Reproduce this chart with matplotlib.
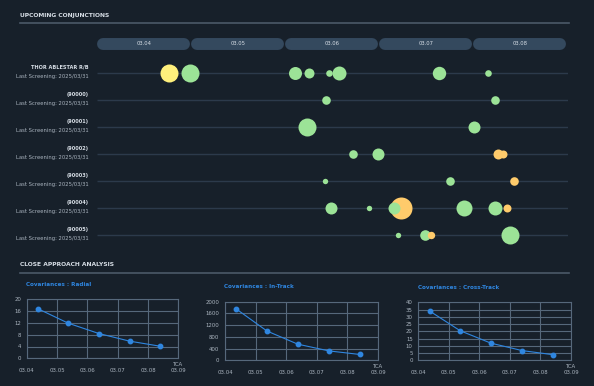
import numpy as np
import matplotlib
matplotlib.use('Agg')
import matplotlib.pyplot as plt
from matplotlib.transforms import ScaledTranslation

######################## data ###############################################

days = [4, 5, 6, 7, 8]
day_labels = ['03.04', '03.05', '03.06', '03.07', '03.08']

objects = ['THOR ABLESTAR R/B', '(90000)', '(90001)', '(90002)',
           '(90003)', '(90004)', '(90005)']
screening = 'Last Screening: 2025/03/31'

# conjunction events: row index, TCA (day of march), size, risk level
ev_row  = [0, 0, 0, 0, 0, 0, 0, 0,
           1, 1,
           2, 2,
           3, 3, 3, 3,
           4, 4, 4,
           5, 5, 5, 5, 5, 5, 5,
           6, 6, 6, 6]
ev_tca  = [4.77, 4.99, 6.11, 6.25, 6.47, 6.57, 7.64, 8.16,
           6.44, 8.23,
           6.23, 8.01,
           6.72, 6.99, 8.27, 8.32,
           6.42, 7.75, 8.44,
           6.49, 6.89, 7.23, 7.16, 7.90, 8.23, 8.36,
           7.20, 7.49, 7.55, 8.39]
ev_size = [9.0, 9.0, 6.5, 5.0, 3.3, 7.0, 6.7, 3.3,
           4.3, 4.3,
           9.0, 6.0,
           4.3, 6.0, 5.0, 4.0,
           2.7, 4.3, 4.3,
           6.0, 2.7, 11.0, 6.0, 8.0, 7.0, 4.0,
           2.7, 5.3, 3.7, 9.0]
ev_lvl  = ['y', 'g', 'g', 'g', 'g', 'g', 'g', 'g',
           'g', 'g',
           'g', 'g',
           'g', 'g', 'o', 'o',
           'g', 'g', 'o',
           'g', 'g', 'o', 'g', 'g', 'g', 'o',
           'g', 'g', 'o', 'g']

tca_x = [4.37, 5.37, 6.38, 7.40, 8.40]
radial = [16.8, 11.9, 8.4, 5.8, 4.1]
intrack = [1750, 1000, 550, 320, 200]
crosstrack = [34.0, 20.4, 11.8, 6.7, 3.9]

######################## style ##############################################

bg = '#17202a'
fg = '#d6dde5'
sub = '#aab4bf'
rowline = '#2c3a4b'
pill = '#34495e'
grid = '#56687b'
blue = '#2f86e0'
lvl_col = {'g': '#9ce397', 'y': '#fff07c', 'o': '#ffcb6b'}

plt.rcParams['font.family'] = ['Liberation Sans Narrow', 'DejaVu Sans']

W, H = 594., 386.
fig = plt.figure(figsize=(W/100, H/100), dpi=100, facecolor=bg)

def box(l, t, r, b):
    return [l/W, 1 - b/H, (r - l)/W, (b - t)/H]

def heading(txt, y):
    fig.text(20/W, 1 - y/H, txt, color=fg, fontsize=4.3, fontweight='bold',
             va='center', ha='left')
    fig.add_artist(plt.Line2D([20/W, 569/W], [1 - (y+8)/H]*2, color='#4b5968',
                              lw=1.2, transform=fig.transFigure))

heading('UPCOMING CONJUNCTIONS', 15)
heading('CLOSE APPROACH ANALYSIS', 265)

######################## upcoming conjunctions ##############################

ax = fig.add_axes(box(97, 30, 568, 250))
ax.set_facecolor('none')
ax.axis('off')
ax.set_xlim(4, 9.01)
ax.set_ylim((250 - 73)/27.05, (30 - 73)/27.05)

ypill = (43.5 - 73)/27.05
for d, lab in zip(days, day_labels):
    ax.plot([d + 0.065, d + 0.93], [ypill, ypill], color=pill, lw=8.6,
            solid_capstyle='round', zorder=1)
    ax.text(d + 0.5, ypill, lab, color=fg, fontsize=3.8, ha='center',
            va='center', zorder=2)

ax.hlines(range(len(objects)), 4, 9.01, color=rowline, lw=1.0, zorder=1)

off = ScaledTranslation(-8/100, 0, fig.dpi_scale_trans)
for i, name in enumerate(objects):
    ax.text(4, i - 6/27.05, name, color=fg, fontsize=3.6, fontweight='bold',
            ha='right', va='center', transform=ax.transData + off)
    ax.text(4, i + 3.5/27.05, screening, color=sub, fontsize=3.8,
            ha='right', va='center', transform=ax.transData + off)

for k in range(len(ev_row)):
    s = (2 * ev_size[k] * 0.72)**2
    ax.scatter(ev_tca[k], ev_row[k], s=s, color=lvl_col[ev_lvl[k]],
               lw=0, zorder=3 + k)

######################## covariances ########################################

panels = [('Covariances : Radial', radial, np.arange(0, 21, 4), (26.7, 299.3, 178.3, 358.3)),
          ('Covariances : In-Track', intrack, np.arange(0, 2001, 400), (225, 301.7, 378, 360.3)),
          ('Covariances : Cross-Track', crosstrack, np.arange(0, 41, 5), (418.3, 302.3, 571, 360.3))]

for tit, vals, yt, (l, t, r, b) in panels:
    a = fig.add_axes(box(l, t, r, b))
    a.set_facecolor('none')
    a.plot(tca_x, vals, color=blue, lw=0.8, marker='o', ms=3.2, zorder=3)
    a.set_xlim(4, 9)
    a.set_ylim(yt[0], yt[-1])
    a.set_xticks(range(4, 10))
    a.set_xticklabels(['03.0%d' % d for d in range(4, 10)])
    a.set_yticks(yt)
    a.grid(True, color=grid, lw=0.8)
    for sp in a.spines.values():
        sp.set_color(grid)
        sp.set_linewidth(0.8)
    a.tick_params(length=0, colors=sub, labelsize=3.9)
    a.tick_params(axis='x', pad=7)
    a.tick_params(axis='y', pad=4)
    fig.text((l - 0.5)/W, 1 - (t - 15)/H, tit, color=blue, fontsize=4.1,
             fontweight='bold', ha='left', va='center')
    fig.text((r - 1)/W, 1 - (b + 6)/H, 'TCA', color=sub, fontsize=3.9,
             ha='center', va='center')

plt.savefig('out.png', dpi=100, facecolor=bg)
plt.close()
